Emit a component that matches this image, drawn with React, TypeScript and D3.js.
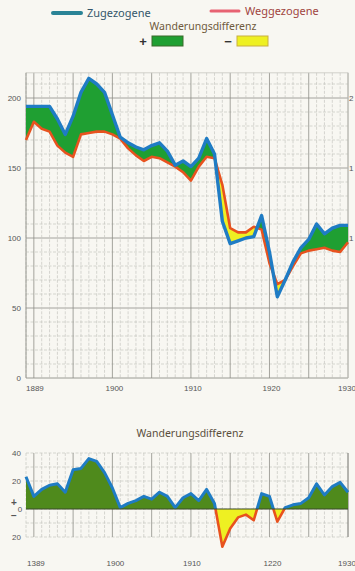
import React from "react";
import * as d3 from "d3";

// ---- data ----
const years = [
  1889, 1890, 1891, 1892, 1893, 1894, 1895, 1896, 1897, 1898, 1899, 1900,
  1901, 1902, 1903, 1904, 1905, 1906, 1907, 1908, 1909, 1910, 1911, 1912,
  1913, 1914, 1915, 1916, 1917, 1918, 1919, 1920, 1921, 1922, 1923, 1924,
  1925, 1926, 1927, 1928, 1929, 1930,
];
// Zugezogene (in-migrants), thousands
const zugezogene = [
  194, 194, 194, 194, 185, 174, 187, 204, 214, 210, 204, 188,
  172, 168, 165, 163, 166, 168, 162, 152, 155, 151, 157, 171,
  160, 112, 96, 98, 100, 101, 116, 90, 58, 70, 83, 93,
  99, 110, 103, 107, 109, 109,
];
// Weggezogene (out-migrants), thousands
const weggezogene = [
  170, 183, 178, 176, 166, 161, 158, 174, 175, 176, 176, 174,
  171, 164, 159, 155, 158, 157, 154, 151, 147, 141, 151, 158,
  157, 138, 107, 104, 104, 108, 106, 82, 67, 70, 80, 89,
  91, 92, 93, 91, 90, 97,
];
// Wanderungsdifferenz (lower chart)
const differenz = [
  23, 9, 14, 17, 18, 12, 28, 29, 36, 34, 26, 15,
  1, 4, 6, 9, 7, 12, 9, 1, 8, 11, 6, 14,
  4, -27, -14, -6, -4, -8, 11, 9, -9, 1, 3, 4,
  8, 18, 10, 16, 19, 12,
];

const mainYTicks = [0, 50, 100, 150, 200];
const mainYRightLabels = ["2", "1", "1"]; // cut-off right-hand labels (200, 150, 100)
const mainYRightValues = [200, 150, 100];
const mainXTickYears = [1889, 1900, 1910, 1920, 1930];
const mainXTickLabels = ["1889", "1900", "1910", "1920", "1930"];
const diffYTicks = [40, 20, -20];
const diffXTickYears = [1889, 1900, 1910, 1920, 1930];
const diffXTickLabels = ["1389", "1900", "1910", "1220", "1930"];

const W = 355;
const H = 571;
const FONT = "'Liberation Sans', 'DejaVu Sans', sans-serif";
const TFONT = "'Noto Sans', 'DejaVu Sans', sans-serif";

const C = {
  bg: "#f8f7f2",
  blue: "#1f7cc4",
  green: "#1f9f32",
  red: "#e8521e",
  yellow: "#eef022",
  olive: "#4f8a1c",
  gridMinor: "#c6c6c0",
  gridMajor: "#8e8e88",
  label: "#555",
};

export default function App() {
  const x = d3.scaleLinear().domain([1889, 1930]).range([26, 348]);
  const y = d3.scaleLinear().domain([0, 200]).range([378, 98]);
  const yd = d3.scaleLinear().domain([-20, 40]).range([537, 453]);

  const mainTop = 218;
  const mainMinorH = d3.range(10, mainTop, 10);
  const diffMinorH = d3.range(-20, 41, 10);

  const idx = years.map((_, i) => i);
  const lineZ = d3.line<number>().x((i) => x(years[i])).y((i) => y(zugezogene[i]));
  const lineW = d3.line<number>().x((i) => x(years[i])).y((i) => y(weggezogene[i]));
  const areaBelowZ = d3.area<number>().x((i) => x(years[i])).y0(y(0)).y1((i) => y(zugezogene[i]));
  const areaBelowW = d3.area<number>().x((i) => x(years[i])).y0(y(0)).y1((i) => y(weggezogene[i]));
  const clipAboveW = d3.area<number>().x((i) => x(years[i])).y0(0).y1((i) => y(weggezogene[i]));
  const clipAboveZ = d3.area<number>().x((i) => x(years[i])).y0(0).y1((i) => y(zugezogene[i]));

  const diffArea = d3.area<number>().x((i) => x(years[i])).y0(yd(0)).y1((i) => yd(differenz[i]));
  const diffLine = d3.line<number>().x((i) => x(years[i])).y((i) => yd(differenz[i]));

  return (
    <svg
      width={W}
      height={H}
      style={{ position: "absolute", left: 0, top: 0, background: C.bg }}
    >
      <defs>
        <clipPath id="clipAboveW">
          <path d={clipAboveW(idx) || ""} />
        </clipPath>
        <clipPath id="clipAboveZ">
          <path d={clipAboveZ(idx) || ""} />
        </clipPath>
        <clipPath id="clipPos">
          <rect x={0} y={0} width={W} height={yd(0)} />
        </clipPath>
        <clipPath id="clipNeg">
          <rect x={0} y={yd(0)} width={W} height={H} />
        </clipPath>
      </defs>
      <rect x={0} y={0} width={W} height={H} fill={C.bg} />

      {/* ---- legend ---- */}
      <line x1={53} x2={81} y1={13} y2={13} stroke="#2a8396" strokeWidth={4} strokeLinecap="round" />
      <text x={87} y={17} fontFamily={TFONT} fontSize={11} fill="#34566a">Zugezogene</text>
      <line x1={211} x2={239} y1={11} y2={11} stroke="#e76272" strokeWidth={3} strokeLinecap="round" />
      <text x={245} y={15} fontFamily={TFONT} fontSize={11} fill="#a0443e">Weggezogene</text>
      <text x={203} y={30} textAnchor="middle" fontFamily={TFONT} fontSize={10.5} fill="#6e5a3c">Wanderungsdifferenz</text>
      <text x={143} y={46} textAnchor="middle" fontFamily={FONT} fontSize={13} fontWeight="bold" fill="#333">+</text>
      <rect x={152} y={36} width={31} height={10} fill={C.green} stroke="#3a6a2a" strokeWidth={1} />
      <text x={228} y={46} textAnchor="middle" fontFamily={FONT} fontSize={13} fontWeight="bold" fill="#333">−</text>
      <rect x={237} y={36} width={31} height={10} fill={C.yellow} stroke="#c8b040" strokeWidth={1} />

      {/* ---- main chart grid ---- */}
      <g>
        {mainMinorH.map((v) => (
          <line key={"mh" + v} x1={x(1889)} x2={x(1930)} y1={y(v)} y2={y(v)}
            stroke={v % 50 === 0 ? C.gridMajor : C.gridMinor}
            strokeWidth={v % 50 === 0 ? 0.8 : 0.7}
            strokeDasharray={v % 50 === 0 ? undefined : "3 1.5"} />
        ))}
        {years.map((yr) => (
          <line key={"mv" + yr} x1={x(yr)} x2={x(yr)} y1={y(mainTop)} y2={y(0)}
            stroke={yr % 5 === 0 ? C.gridMajor : C.gridMinor}
            strokeWidth={yr % 5 === 0 ? 0.8 : 0.7}
            strokeDasharray={yr % 5 === 0 ? undefined : "3 1.5"} />
        ))}
        <line x1={x(1889)} x2={x(1930)} y1={y(mainTop)} y2={y(mainTop)} stroke={C.gridMinor} strokeWidth={0.8} />
        <line x1={x(1889)} x2={x(1930)} y1={y(0)} y2={y(0)} stroke={C.gridMajor} strokeWidth={0.9} />
        <line x1={x(1889)} x2={x(1889)} y1={y(mainTop)} y2={y(0)} stroke={C.gridMajor} strokeWidth={0.9} />
        <line x1={x(1930)} x2={x(1930)} y1={y(mainTop)} y2={y(0)} stroke={C.gridMinor} strokeWidth={0.9} />
      </g>

      {/* ---- main chart data ---- */}
      <path d={areaBelowZ(idx) || ""} fill={C.green} clipPath="url(#clipAboveW)" />
      <path d={areaBelowW(idx) || ""} fill={C.yellow} clipPath="url(#clipAboveZ)" />
      <path d={lineW(idx) || ""} fill="none" stroke={C.red} strokeWidth={2.6} strokeLinejoin="round" />
      <path d={lineZ(idx) || ""} fill="none" stroke={C.blue} strokeWidth={3.4} strokeLinejoin="round" />

      {/* ---- main axes labels ---- */}
      {mainYTicks.map((v) => (
        <text key={"ly" + v} x={21} y={y(v) + 3} textAnchor="end" fontFamily={FONT} fontSize={8} fill={C.label}>{v}</text>
      ))}
      {mainYRightValues.map((v, i) => (
        <text key={"ry" + v} x={349} y={y(v) + 3} textAnchor="start" fontFamily={FONT} fontSize={8} fill={C.label}>{mainYRightLabels[i]}</text>
      ))}
      {mainXTickYears.map((yr, i) => (
        <text key={"lx" + yr} x={i === 0 ? x(yr) : x(yr) + (i === 4 ? -1 : 2)} y={391}
          textAnchor={i === 0 ? "start" : "middle"} fontFamily={FONT} fontSize={8} fill={C.label}>
          {mainXTickLabels[i]}
        </text>
      ))}

      {/* ---- lower chart ---- */}
      <text x={190} y={437} textAnchor="middle" fontFamily={TFONT} fontSize={10.5} fill="#5a4e3c">Wanderungsdifferenz</text>
      <g>
        {diffMinorH.map((v) => (
          <line key={"dh" + v} x1={x(1889)} x2={x(1930)} y1={yd(v)} y2={yd(v)}
            stroke={C.gridMinor} strokeWidth={0.7} strokeDasharray="3 1.5" />
        ))}
        {years.map((yr) => (
          <line key={"dv" + yr} x1={x(yr)} x2={x(yr)} y1={yd(40)} y2={yd(-20)}
            stroke={yr % 5 === 0 ? C.gridMajor : C.gridMinor}
            strokeWidth={yr % 5 === 0 ? 0.8 : 0.7}
            strokeDasharray={yr % 5 === 0 ? undefined : "3 1.5"} />
        ))}
        <line x1={x(1930)} x2={x(1930)} y1={yd(40)} y2={yd(-20)} stroke={C.gridMajor} strokeWidth={0.8} />
      </g>
      <path d={diffArea(idx) || ""} fill={C.olive} clipPath="url(#clipPos)" />
      <path d={diffArea(idx) || ""} fill={C.yellow} clipPath="url(#clipNeg)" />
      <path d={diffLine(idx) || ""} fill="none" stroke={C.blue} strokeWidth={3} strokeLinejoin="round" clipPath="url(#clipPos)" />
      <path d={diffLine(idx) || ""} fill="none" stroke={C.red} strokeWidth={2.6} strokeLinejoin="round" clipPath="url(#clipNeg)" />
      <line x1={x(1889)} x2={x(1930)} y1={yd(0)} y2={yd(0)} stroke="#3a4a2a" strokeWidth={1} />

      {diffYTicks.map((v) => (
        <text key={"dy" + v} x={21} y={yd(v) + 3} textAnchor="end" fontFamily={FONT} fontSize={8} fill={C.label}>{Math.abs(v)}</text>
      ))}
      <text x={14} y={yd(0) - 3} textAnchor="middle" fontFamily={FONT} fontSize={10} fontWeight="bold" fill={C.label}>+</text>
      <text x={20} y={yd(0) + 3} textAnchor="middle" fontFamily={FONT} fontSize={8} fill={C.label}>0</text>
      <text x={14} y={yd(0) + 10} textAnchor="middle" fontFamily={FONT} fontSize={10} fontWeight="bold" fill={C.label}>−</text>
      {diffXTickYears.map((yr, i) => (
        <text key={"dx" + yr} x={i === 0 ? x(yr) + 1 : x(yr) + (i === 4 ? -1 : i === 2 ? 1 : 3)} y={566}
          textAnchor={i === 0 ? "start" : "middle"} fontFamily={FONT} fontSize={8} fill={C.label}>
          {diffXTickLabels[i]}
        </text>
      ))}
    </svg>
  );
}
